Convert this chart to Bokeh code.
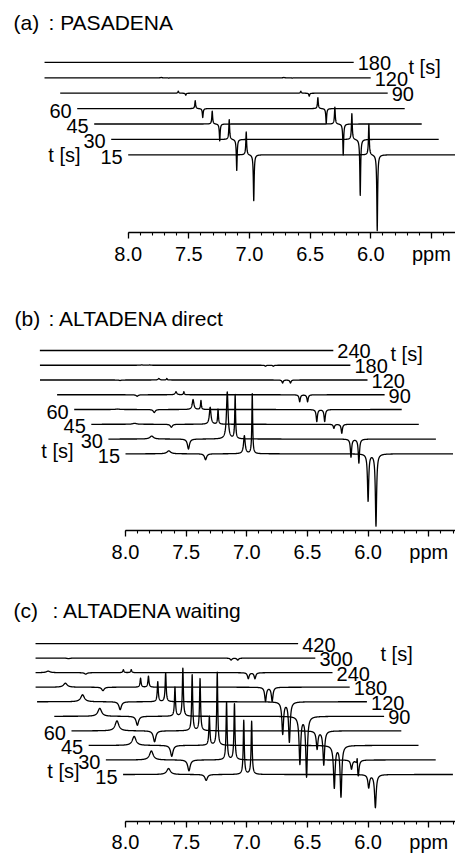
import numpy as np
from bokeh.plotting import figure
from bokeh.models import Range1d, LinearAxis, SingleIntervalTicker, PrintfTickFormatter
from bokeh.core.properties import value
from bokeh.embed import file_html
from bokeh.resources import INLINE

FONT = "Liberation Sans"

# ---------------- data ----------------
# (a) PASADENA
times_a = [15, 30, 45, 60, 90, 120, 180]
peaks_a = [7.027, 6.965, 6.016, 5.947]          # ppm
hwhm_a = [0.004, 0.004, 0.004, 0.004]            # ppm
amps_a = [                                       # a.u., one row per time
    [23, -46, 31, -76],
    [20, -31, 26, -56],
    [13, -17, 17, -31],
    [8, -9, 11, -15],
    [2, -2, 2, -3],
    [0.4, -0.4, 0.4, -0.4],
    [0, 0, 0, 0],
]

# (b) ALTADENA direct
times_b = [15, 30, 45, 60, 90, 120, 180, 240]
peaks_b = [7.643, 7.340, 7.020, 6.955, 6.000, 5.935]
hwhm_b = [0.018, 0.010, 0.008, 0.004, 0.006, 0.006]
amps_b = [
    [3, -6, 18, 60, -47, -72],
    [3, -10, 47, 44, -18, -24],
    [1, -3, 17, 15, -4, -9],
    [0.5, -3, 10, 9, -12, -12],
    [0, -1.5, 3, 3, -7, -7],
    [0, -0.5, 1.5, 1.5, -3, -3],
    [0, 0, 0.4, 0.4, -1, -1],
    [0, 0, 0, 0, 0, 0],
]

# (c) ALTADENA waiting
times_c = [15, 30, 45, 60, 90, 120, 180, 240, 300, 420]
peaks_c = [7.645, 7.335, 7.025, 6.960, 5.995, 5.940, 5.948]
hwhm_c = [0.018, 0.012, 0.005, 0.005, 0.008, 0.008, 0.003]
amps_c = [
    [6, -6, 54, 53, -13, -33, 0],
    [9, -11, 58, 56, -9, -17, 10],
    [9, -11, 29, 73, -42, -51, 0],
    [10, -11, 56, 52, -18, -34, 0],
    [8, -9, 29, 48, -47, -60, 0],
    [7, -8, 20, 29, -32, -40, 0],
    [4, -3.5, 9, 11, -14, -14, 0],
    [1.5, -1.5, 3, 3, -6, -6, 0],
    [0.4, -0.6, 0, 0, -2, -2, 0],
    [0, 0, 0, 0, 0, 0, 0],
]

tick_interval = 0.5
unit_label = "ppm"

# ---------------- layout ----------------
W, H = 455, 853
PX_PER_PPM = 121.3

panels = [
    dict(key="a", times=times_a, pos=peaks_a, hw=hwhm_a, amps=amps_a,
         start=8.0, end=5.30, x8=127.7, base=154.3, dy=15.4, shift=17.0,
         clip=44.0, axis=232.3, letter="(a)", title=": PASADENA",
         letter_x=13, title_x=48, title_y=22,
         tleft=(80, 154), tright=(408, 66)),
    dict(key="b", times=times_b, pos=peaks_b, hw=hwhm_b, amps=amps_b,
         start=8.0, end=5.30, x8=125.0, base=453.3, dy=14.76, shift=17.1,
         clip=39.3, axis=530.0, letter="(b)", title=": ALTADENA direct",
         letter_x=14, title_x=48, title_y=318,
         tleft=(73, 450), tright=(390, 353)),
    dict(key="c", times=times_c, pos=peaks_c, hw=hwhm_c, amps=amps_c,
         start=8.02, end=5.30, x8=125.0, base=774.0, dy=14.55, shift=17.2,
         clip=35.0, axis=820.5, letter="(c)", title=": ALTADENA waiting",
         letter_x=13, title_x=52, title_y=610,
         tleft=(79, 770), tright=(380, 653)),
]

p = figure(width=W, height=H, x_range=Range1d(0, W), y_range=Range1d(H, 0),
           output_backend="svg", toolbar_location=None,
           x_axis_location=None, y_axis_location=None, min_border=0,
           outline_line_color=None, background_fill_color="white",
           border_fill_color="white")
p.grid.visible = False

extra_x, extra_y = {}, {}
for P in panels:
    xs = 8.0 + P["x8"] / PX_PER_PPM
    extra_x[P["key"]] = Range1d(xs, xs - W / PX_PER_PPM)
    extra_y[P["key"]] = Range1d(-(H - P["base"]), P["base"])
p.extra_x_ranges = extra_x
p.extra_y_ranges = extra_y

txt = dict(text_font=value(FONT), text_font_size="20px", text_color="black")
ttl = dict(text_font=value(FONT), text_font_size="21px", text_color="black")

for P in panels:
    key = P["key"]
    shift_ppm = P["shift"] / PX_PER_PPM
    clip_ppm = 8.0 + (P["x8"] - P["clip"]) / PX_PER_PPM
    pos = np.array(P["pos"])
    hw = np.array(P["hw"])
    grid = np.concatenate([np.arange(P["start"], P["end"], -0.0012), pos])
    grid = np.sort(grid)[::-1]
    for k, t in enumerate(P["times"]):
        amp = np.array(P["amps"][k], dtype=float)
        y = np.zeros_like(grid)
        for a, c, w in zip(amp, pos, hw):
            y += a * w * w / ((grid - c) ** 2 + w * w)
        xd = grid + k * shift_ppm
        m = xd <= clip_ppm
        p.line(xd[m], y[m] + k * P["dy"], x_range_name=key, y_range_name=key,
               line_color="black", line_width=1.3, line_join="round")
        if k < 4:
            p.text(x=[P["start"] + k * shift_ppm + 5.5 / PX_PER_PPM],
                   y=[k * P["dy"] - 2], text=[str(t)], x_range_name=key,
                   y_range_name=key, text_align="right", text_baseline="middle", **txt)
        else:
            p.text(x=[P["end"] + k * shift_ppm - 4 / PX_PER_PPM],
                   y=[k * P["dy"] - 1], text=[str(t)], x_range_name=key,
                   y_range_name=key, text_align="left", text_baseline="middle", **txt)

    # titles and "t [s]" captions (page pixel coordinates)
    p.text(x=[P["letter_x"]], y=[P["title_y"]], text=[P["letter"]],
           text_align="left", text_baseline="middle", **ttl)
    p.text(x=[P["title_x"]], y=[P["title_y"]], text=[P["title"]],
           text_align="left", text_baseline="middle", **ttl)
    p.text(x=[P["tleft"][0]], y=[P["tleft"][1]], text=["t [s]"],
           text_align="right", text_baseline="middle", **txt)
    p.text(x=[P["tright"][0]], y=[P["tright"][1]], text=["t [s]"],
           text_align="left", text_baseline="middle", **txt)

    xs = 8.0 + P["x8"] / PX_PER_PPM
    ax = LinearAxis(x_range_name=key, fixed_location=P["axis"],
                    bounds=(xs - W / PX_PER_PPM, 8.0),
                    ticker=SingleIntervalTicker(interval=tick_interval, num_minor_ticks=5),
                    formatter=PrintfTickFormatter(format="%.1f"),
                    major_label_overrides={5.5: unit_label})
    ax.axis_line_color = "black"
    ax.axis_line_width = 1.4
    ax.major_tick_line_color = "black"
    ax.major_tick_line_width = 1.3
    ax.minor_tick_line_color = "black"
    ax.minor_tick_line_width = 1.1
    ax.major_tick_in = 0
    ax.major_tick_out = 6
    ax.minor_tick_in = 0
    ax.minor_tick_out = 3
    ax.major_label_standoff = 4
    ax.major_label_text_font = FONT
    ax.major_label_text_font_size = "20px"
    ax.major_label_text_color = "black"
    p.add_layout(ax, "below")

open("out.html", "w").write(file_html(p, INLINE))
